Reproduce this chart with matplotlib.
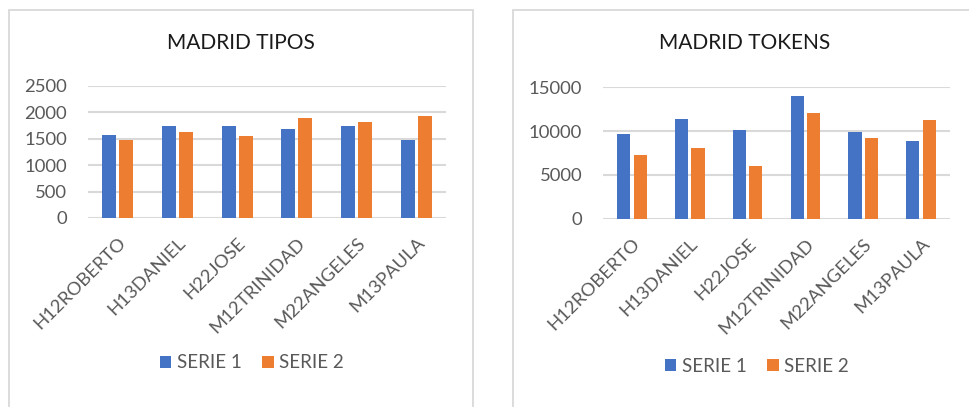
import numpy as np
import matplotlib.pyplot as plt
from matplotlib.patches import Rectangle

W, H = 969, 407

speakers = ["H12ROBERTO", "H13DANIEL", "H22JOSE", "M12TRINIDAD", "M22ANGELES", "M13PAULA"]
tipos_s1 = [1570, 1750, 1735, 1685, 1750, 1470]
tipos_s2 = [1480, 1620, 1555, 1900, 1810, 1935]
tokens_s1 = [9620, 11320, 10080, 13930, 9850, 8870]
tokens_s2 = [7270, 8060, 6020, 12080, 9245, 11210]
series_names = ["SERIE 1", "SERIE 2"]

BLUE = "#4472C4"
ORANGE = "#ED7D31"
GRID = "#D9D9D9"
TXT = "#595959"

plt.rcParams['font.family'] = ['Lato', 'DejaVu Sans']

fig = plt.figure(figsize=(W / 100, H / 100), dpi=100)


def px_axes(x0, y0, x1, y1):
    # pixel box (y from top) -> figure axes
    return fig.add_axes([x0 / W, 1 - y1 / H, (x1 - x0) / W, (y1 - y0) / H])


def draw_chart(box, plot, title, title_xy, s1, s2, ymax, ystep, legend_xy):
    bx0, by0, bx1 = box
    fig.patches.append(Rectangle((bx0 / W, -0.1), (bx1 - bx0) / W, 1 - by0 / H + 0.1,
                                 transform=fig.transFigure, fill=False,
                                 edgecolor=GRID, linewidth=1.3))
    ax = px_axes(*plot)
    x = np.arange(len(speakers))
    w = 0.23
    ax.bar(x - 0.1425, s1, w, color=BLUE, label=series_names[0], zorder=3)
    ax.bar(x + 0.1425, s2, w, color=ORANGE, label=series_names[1], zorder=3)
    ax.set_xlim(-0.5, len(speakers) - 0.5)
    ax.set_ylim(0, ymax)
    ax.set_yticks(np.arange(0, ymax + 1, ystep))
    ax.yaxis.grid(True, color=GRID, linewidth=1.5, zorder=0)
    ax.set_axisbelow(True)
    for s in ["top", "right", "left", "bottom"]:
        ax.spines[s].set_visible(False)
    ax.tick_params(length=0, labelsize=13.3, labelcolor=TXT)
    ax.tick_params(axis='y', pad=15)
    ax.set_xticks(x)
    ax.set_xticklabels(speakers, rotation=45, ha='right', rotation_mode='anchor')
    ax.tick_params(axis='x', pad=12)
    fig.text(title_xy[0] / W, 1 - title_xy[1] / H, title, ha='center', va='center',
             fontsize=15, color='#1a1a1a')
    handles, labels = ax.get_legend_handles_labels()
    fig.legend(handles, labels, loc='center',
               bbox_to_anchor=(legend_xy[0] / W, 1 - legend_xy[1] / H),
               ncol=2, frameon=False, fontsize=13.5, labelcolor=TXT,
               handlelength=0.6, handleheight=0.6, handletextpad=0.3,
               columnspacing=1.1, borderpad=0)
    return ax


draw_chart((9, 10, 473), (88, 86, 446, 218), "MADRID TIPOS", (241, 43),
           tipos_s1, tipos_s2, 2500, 500, (252, 363))
draw_chart((513, 10, 1000), (603, 87, 950, 219), "MADRID TOKENS", (745, 43),
           tokens_s1, tokens_s2, 15000, 5000, (757, 366))

fig.savefig("out.png", dpi=100)
